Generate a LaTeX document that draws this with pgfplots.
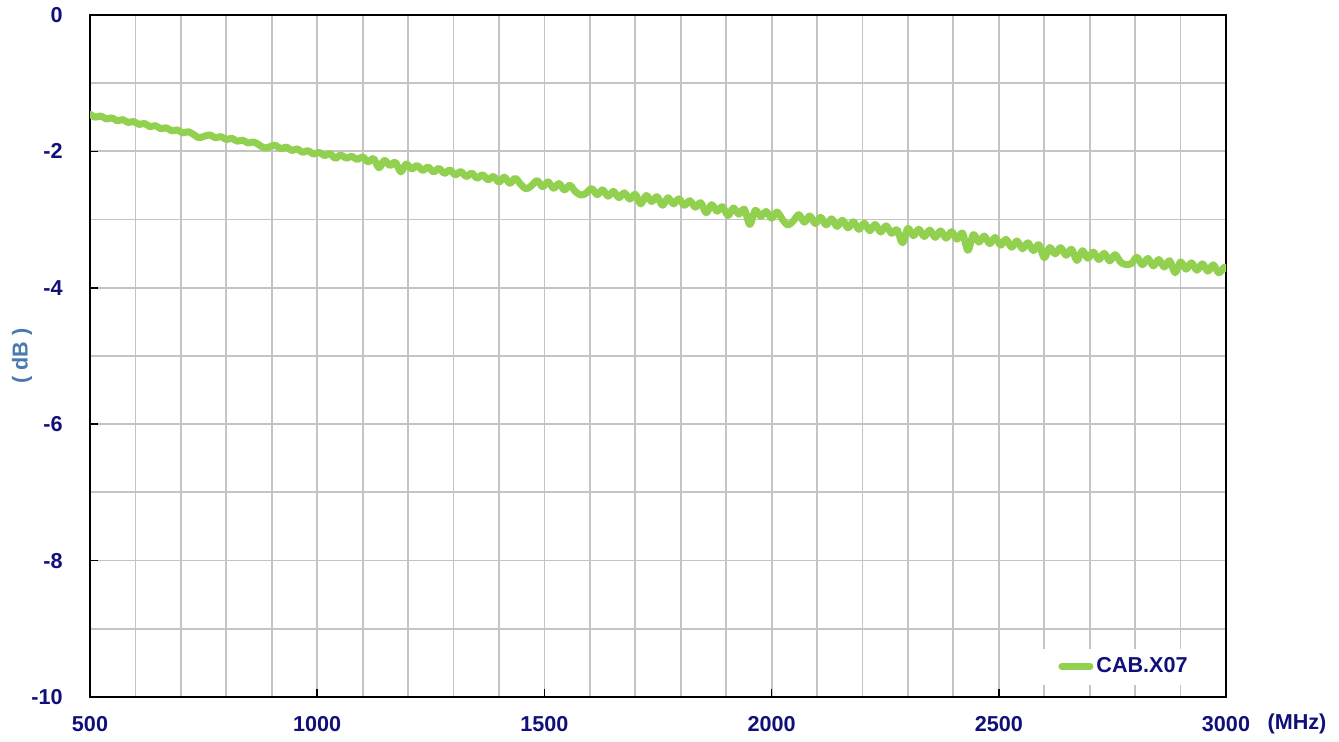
\documentclass[border=0pt]{standalone}
\usepackage{fontspec}
\setmainfont{Liberation Sans}
\usepackage{pgfplots}
\pgfplotsset{compat=1.18}
\usepackage{pgfplotstable}
\definecolor{navy}{HTML}{10107A}
\definecolor{lblue}{HTML}{4A78B0}
\definecolor{lgreen}{HTML}{92D050}
\definecolor{gridc}{HTML}{C4C4C4}
\pgfplotstableread{
f y
500 -1.455
512 -1.498
524 -1.481
536 -1.525
548 -1.508
560 -1.551
572 -1.534
584 -1.577
596 -1.561
608 -1.605
620 -1.591
632 -1.637
644 -1.622
656 -1.668
668 -1.653
680 -1.699
692 -1.685
704 -1.729
716 -1.711
728 -1.753
740 -1.800
752 -1.777
764 -1.759
776 -1.801
788 -1.783
800 -1.825
812 -1.808
824 -1.851
836 -1.835
848 -1.878
860 -1.861
872 -1.904
884 -1.950
896 -1.931
908 -1.909
920 -1.962
932 -1.935
944 -1.988
956 -1.962
968 -2.015
980 -1.988
992 -2.041
1004 -2.013
1016 -2.063
1028 -2.032
1040 -2.100
1052 -2.052
1064 -2.101
1076 -2.071
1088 -2.120
1100 -2.080
1112 -2.153
1124 -2.106
1136 -2.240
1148 -2.133
1160 -2.206
1172 -2.159
1184 -2.300
1196 -2.185
1208 -2.257
1220 -2.208
1232 -2.279
1244 -2.230
1256 -2.300
1268 -2.251
1280 -2.322
1292 -2.273
1304 -2.344
1316 -2.296
1328 -2.368
1340 -2.320
1352 -2.392
1364 -2.344
1376 -2.416
1388 -2.368
1400 -2.450
1412 -2.378
1424 -2.467
1436 -2.395
1448 -2.484
1460 -2.550
1472 -2.500
1484 -2.429
1496 -2.517
1508 -2.448
1520 -2.540
1532 -2.472
1544 -2.564
1556 -2.496
1568 -2.588
1580 -2.640
1592 -2.612
1604 -2.544
1616 -2.634
1628 -2.565
1640 -2.656
1652 -2.587
1664 -2.678
1676 -2.608
1688 -2.699
1700 -2.630
1712 -2.770
1724 -2.647
1736 -2.735
1748 -2.664
1760 -2.790
1772 -2.680
1784 -2.769
1796 -2.697
1808 -2.790
1820 -2.724
1832 -2.818
1844 -2.753
1856 -2.900
1868 -2.782
1880 -2.876
1892 -2.810
1904 -2.940
1916 -2.831
1928 -2.919
1940 -2.848
1952 -3.070
1964 -2.865
1976 -2.953
1988 -2.882
2000 -2.980
2012 -2.890
2024 -2.999
2036 -3.080
2048 -3.018
2060 -2.928
2072 -3.038
2084 -2.947
2096 -3.057
2108 -2.967
2120 -3.078
2132 -2.989
2144 -3.100
2156 -3.010
2168 -3.121
2180 -3.032
2192 -3.143
2204 -3.053
2216 -3.163
2228 -3.072
2240 -3.182
2252 -3.092
2264 -3.201
2276 -3.150
2288 -3.340
2300 -3.130
2312 -3.236
2324 -3.142
2336 -3.248
2348 -3.154
2360 -3.260
2372 -3.166
2384 -3.272
2396 -3.178
2408 -3.287
2420 -3.198
2432 -3.450
2444 -3.220
2456 -3.330
2468 -3.241
2480 -3.352
2492 -3.263
2504 -3.374
2516 -3.290
2528 -3.405
2540 -3.314
2552 -3.427
2564 -3.340
2576 -3.454
2588 -3.367
2600 -3.560
2612 -3.410
2624 -3.502
2636 -3.412
2648 -3.523
2660 -3.434
2672 -3.600
2684 -3.456
2696 -3.566
2708 -3.476
2720 -3.586
2732 -3.495
2744 -3.605
2756 -3.514
2768 -3.624
2780 -3.660
2792 -3.643
2804 -3.553
2816 -3.661
2828 -3.570
2840 -3.678
2852 -3.586
2864 -3.695
2876 -3.603
2888 -3.780
2900 -3.620
2912 -3.727
2924 -3.634
2936 -3.742
2948 -3.649
2960 -3.756
2972 -3.663
2984 -3.780
2996 -3.700
3000 -3.720
}\datatable

\newcommand{\lblfont}{\fontsize{10.8}{12}\selectfont\bfseries}

\begin{document}
\begin{tikzpicture}
\path (-45pt,-22.5pt) rectangle (624.5pt,348.5pt);
\begin{axis}[
  at={(0pt,0pt)}, anchor=south west,
  width=568pt, height=341pt, scale only axis,
  xmin=500, xmax=3000, ymin=-10, ymax=0,
  xtick={500,1000,1500,2000,2500,3000},
  xticklabels={500,1000,1500,2000,2500,3000},
  ytick={-10,-8,-6,-4,-2,0},
  yticklabels={-10,-8,-6,-4,-2,0},
  minor xtick={600,700,...,2900},
  minor ytick={-9,-7,-5,-3,-1},
  grid=both,
  major grid style={draw=gridc, line width=0.9pt},
  minor grid style={draw=gridc, line width=0.9pt},
  tick align=inside,
  xtick pos=bottom, ytick pos=left,
  major tick length=4pt, minor tick length=0pt,
  tick style={black, line width=0.75pt},
  axis line style={black, line width=0.8pt},
  tick label style={font=\lblfont, text=navy},
  xticklabel style={inner sep=0pt, anchor=north, yshift=-9.5pt},
  yticklabel style={inner sep=0pt, anchor=east, xshift=-13.5pt},
  legend style={at={(0.8363,0.0176)}, anchor=south west, draw=none, fill=white,
    inner xsep=9pt, inner ysep=3pt, font=\lblfont, text=navy,
    nodes={inner sep=1.5pt}},
  legend image code/.code={\draw[#1] (0pt,0pt) -- (14pt,0pt);},
  legend cell align=left,
]
\addplot[lgreen, line width=3.5pt, smooth, tension=0.55, line join=round, line cap=round] table[x=f, y=y] {\datatable};
\addlegendentry{CAB.X07}
\end{axis}
\node[font=\lblfont, text=navy, anchor=center] at (603.5pt,-13.5pt) {(MHz)};
\node[font=\lblfont, text=lblue, rotate=90, anchor=center] at (-34pt,170.5pt) {( dB )};
\end{tikzpicture}
\end{document}
